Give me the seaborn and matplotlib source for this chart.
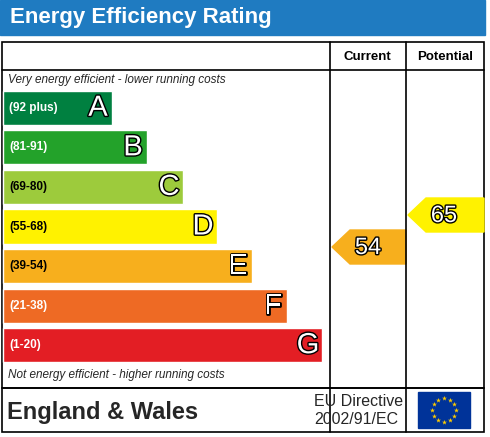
import numpy as np
import pandas as pd
import seaborn as sns
import matplotlib.pyplot as plt
from matplotlib.patches import Rectangle, Polygon
import matplotlib.patheffects as pe

bands = ["A", "B", "C", "D", "E", "F", "G"]
ranges = ["(92 plus)", "(81-91)", "(69-80)", "(55-68)", "(39-54)", "(21-38)", "(1-20)"]
bar_ends = [112, 147, 183, 217, 252, 287, 322]
colours = ["#008040", "#23a22a", "#9dcb3c", "#fff200", "#f7af1d", "#ee6a24", "#e31e24"]
label_cols = ["white", "white", "black", "black", "black", "white", "white"]
current = 54
potential = 65

sns.set_theme(style="white")
plt.rcParams['font.family'] = ['Liberation Sans', 'DejaVu Sans']

W, H = 490, 437
fig = plt.figure(figsize=(W / 100, H / 100), dpi=100)
bg = fig.add_axes([0, 0, 1, 1])
bg.set_xlim(0, W)
bg.set_ylim(H, 0)
bg.axis("off")

# title bar
bg.add_patch(Rectangle((0, 0), 485, 35, color="#1f7bc1"))
bg.text(10, 18, "Energy Efficiency Rating", color="white", fontsize=16, fontweight="bold", va="center")

# frames
lw = 1.2
bg.add_patch(Rectangle((2, 42), 482, 346, fill=False, ec="black", lw=lw))
bg.add_patch(Rectangle((2, 388), 482, 44, fill=False, ec="black", lw=lw))
bg.plot([330, 330], [42, 388], color="black", lw=lw)
bg.plot([406, 406], [42, 388], color="black", lw=lw)
bg.plot([2, 484], [70, 70], color="black", lw=lw)
bg.plot([330, 330], [388, 432], color="black", lw=lw)
bg.plot([406, 406], [388, 432], color="black", lw=lw)
bg.text(367, 57, "Current", fontsize=9.5, fontweight="bold", ha="center", va="center", color="black")
bg.text(445, 57, "Potential", fontsize=9.5, fontweight="bold", ha="center", va="center", color="black")
bg.text(8, 80, "Very energy efficient - lower running costs", fontsize=8.5, style="italic", va="center")
bg.text(8, 375, "Not energy efficient - higher running costs", fontsize=8.5, style="italic", va="center")

# bands via seaborn
top, bottom = 88, 365
bax = fig.add_axes([0, 1 - bottom / H, 1, (bottom - top) / H])
df = pd.DataFrame({"band": bands, "end": [e - 3 for e in bar_ends]})
sns.barplot(data=df, x="end", y="band", hue="band", palette=colours, orient="h",
            width=0.86, legend=False, ax=bax, saturation=1)
bax.set_xlim(-3, W - 3)
bax.axis("off")
outline = [pe.withStroke(linewidth=2, foreground="black")]
for i, (b, r) in enumerate(zip(bands, ranges)):
    bax.text(6, i, r, color=label_cols[i], fontsize=8.5, fontweight="bold", va="center")
    bax.text(bar_ends[i] - 17, i, b, color="white", fontsize=21,
             ha="center", va="center", path_effects=outline)

# rating arrows
def arrow(x0, x1, yc, h, col, val):
    pts = [(x0, yc), (x0 + 18, yc - h / 2), (x1, yc - h / 2), (x1, yc + h / 2), (x0 + 18, yc + h / 2)]
    bg.add_patch(Polygon(pts, color=col))
    bg.text(x0 + 36, yc + 1, str(val), color="white", fontsize=17, ha="center", va="center",
            path_effects=outline)

arrow(332, 406, 247, 34, colours[4], current)
arrow(408, 484, 215, 34, colours[3], potential)

# footer
bg.text(7, 413, "England & Wales", fontsize=17, fontweight="bold", va="center")
bg.text(314, 401, "EU Directive", fontsize=11.5, va="center")
bg.text(314, 419, "2002/91/EC", fontsize=11.5, va="center")
bg.add_patch(Rectangle((418, 392), 52, 36, color="#003399"))
ang = np.linspace(0, 2 * np.pi, 13)[:-1]
bg.scatter(444 + 12 * np.cos(ang), 410 + 12 * np.sin(ang), marker="*", s=14, color="#ffcc00", lw=0)

fig.savefig("out.png", dpi=100)
